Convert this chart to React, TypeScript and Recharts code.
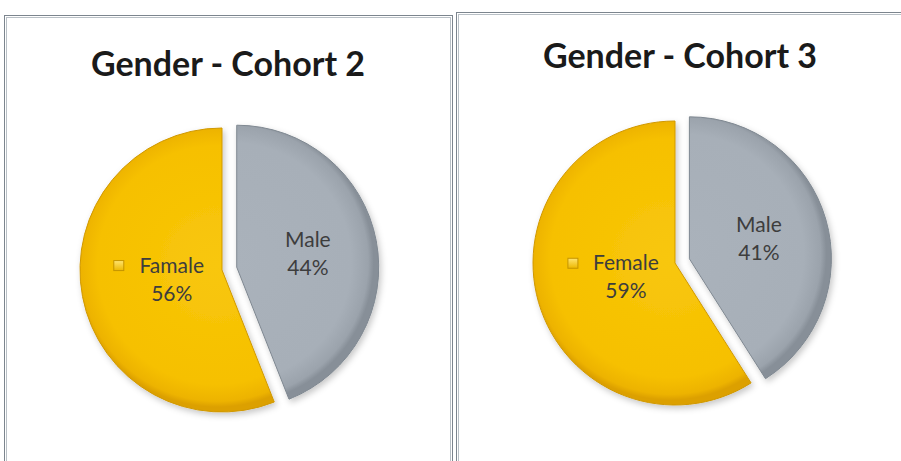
import { PieChart, Pie, Cell, Sector } from 'recharts';

// values
const cohort2Names = ['Male', 'Famale'];
const cohort2Values = [44, 56];
const cohort3Names = ['Male', 'Female'];
const cohort3Values = [41, 59];
const titles = ['Gender - Cohort 2', 'Gender - Cohort 3'];

const RADIAN = Math.PI / 180;
const EXPLODE = 15;
const RADIUS = 142;
const FONT = 'Lato, "Open Sans", sans-serif';

const shift = (angle: number, d: number) => ({
  dx: d * Math.cos(-angle * RADIAN),
  dy: d * Math.sin(-angle * RADIAN),
});

// Male slice pulled out of the pie
const renderSlice = (props: any) => {
  const off = props.index === 0 ? EXPLODE : 0;
  const { dx, dy } = shift(props.midAngle, off);
  return <Sector {...props} cx={props.cx + dx} cy={props.cy + dy} />;
};

const makeLabel = (gid: string) => (props: any) => {
  const { cx, cy, midAngle, outerRadius, percent, name, index } = props;
  const isMale = index === 0;
  const off = isMale ? shift(midAngle, EXPLODE) : { dx: 0, dy: 0 };
  const r = outerRadius * (isMale ? 0.51 : 0.36);
  const p = shift(midAngle, r);
  const x = cx + off.dx + p.dx;
  const y = cy + off.dy + p.dy;
  return (
    <g>
      {!isMale && (
        <rect x={x - 58} y={y - 19} width={10} height={10} fill={`url(#${gid}-key)`} stroke="#c49400" strokeWidth={1} />
      )}
      <text x={x} y={y - 7} textAnchor="middle" fontFamily={FONT} fontSize={21} fill="#3d3d3d">
        {name}
      </text>
      <text x={x} y={y + 21} textAnchor="middle" fontFamily={FONT} fontSize={21} fill="#3d3d3d">
        {Math.round(percent * 100)}%
      </text>
    </g>
  );
};

function GenderPie({ gid, title, names, values, cx, cy, titleY }: any) {
  const data = names.map((name: string, i: number) => ({ name, value: values[i] }));
  const maleMid = 90 - (values[0] / (values[0] + values[1])) * 180;
  const mo = shift(maleMid, EXPLODE);
  return (
    <PieChart width={446} height={460}>
      <defs>
        <radialGradient id={`${gid}-f`} gradientUnits="userSpaceOnUse" cx={cx} cy={cy} r={RADIUS}>
          <stop offset="0%" stopColor="#F8C70C" />
          <stop offset="84%" stopColor="#F6C000" />
          <stop offset="96%" stopColor="#EDB300" />
          <stop offset="100%" stopColor="#DCA000" />
        </radialGradient>
        <radialGradient id={`${gid}-m`} gradientUnits="userSpaceOnUse" cx={cx + mo.dx} cy={cy + mo.dy} r={RADIUS}>
          <stop offset="0%" stopColor="#AAB2BB" />
          <stop offset="84%" stopColor="#A7AFB8" />
          <stop offset="96%" stopColor="#9BA3AC" />
          <stop offset="100%" stopColor="#878F98" />
        </radialGradient>
        <linearGradient id={`${gid}-key`} x1="0" y1="0" x2="0" y2="1">
          <stop offset="0%" stopColor="#FFE470" />
          <stop offset="100%" stopColor="#EDB800" />
        </linearGradient>
        <filter id={`${gid}-sh`} x="-20%" y="-20%" width="140%" height="140%">
          <feDropShadow dx="2" dy="3" stdDeviation="3" floodColor="#000" floodOpacity="0.22" />
        </filter>
      </defs>
      <text x={223} y={titleY} textAnchor="middle" fontFamily={FONT} fontWeight={700} fontSize={34} fill="#1a1a1a">
        {title}
      </text>
      <Pie
        data={data}
        dataKey="value"
        nameKey="name"
        cx={cx}
        cy={cy}
        outerRadius={RADIUS}
        startAngle={90}
        endAngle={-270}
        shape={renderSlice}
        label={makeLabel(gid)}
        labelLine={false}
        isAnimationActive={false}
        style={{ filter: `url(#${gid}-sh)` }}
      >
        <Cell fill={`url(#${gid}-m)`} stroke="#7f8891" strokeWidth={1} />
        <Cell fill={`url(#${gid}-f)`} stroke="#d09800" strokeWidth={1} />
      </Pie>
    </PieChart>
  );
}

const panel = (left: number, top: number, width: number): any => ({
  position: 'absolute',
  left,
  top,
  width,
  height: 470,
  border: '1px solid #7c858e',
  outline: '1px solid #b9c0c6',
  outlineOffset: '-3px',
  background: '#fff',
});

export default function App() {
  return (
    <div style={{ position: 'fixed', left: 0, top: 0, width: 901, height: 461, overflow: 'hidden', background: '#fff' }}>
      <div style={panel(4, 15, 447)}>
        <GenderPie gid="c2" title={titles[0]} names={cohort2Names} values={cohort2Values} cx={212} cy={249} titleY={60} />
      </div>
      <div style={panel(456, 12, 460)}>
        <GenderPie gid="c3" title={titles[1]} names={cohort3Names} values={cohort3Values} cx={213} cy={245} titleY={55} />
      </div>
    </div>
  );
}
